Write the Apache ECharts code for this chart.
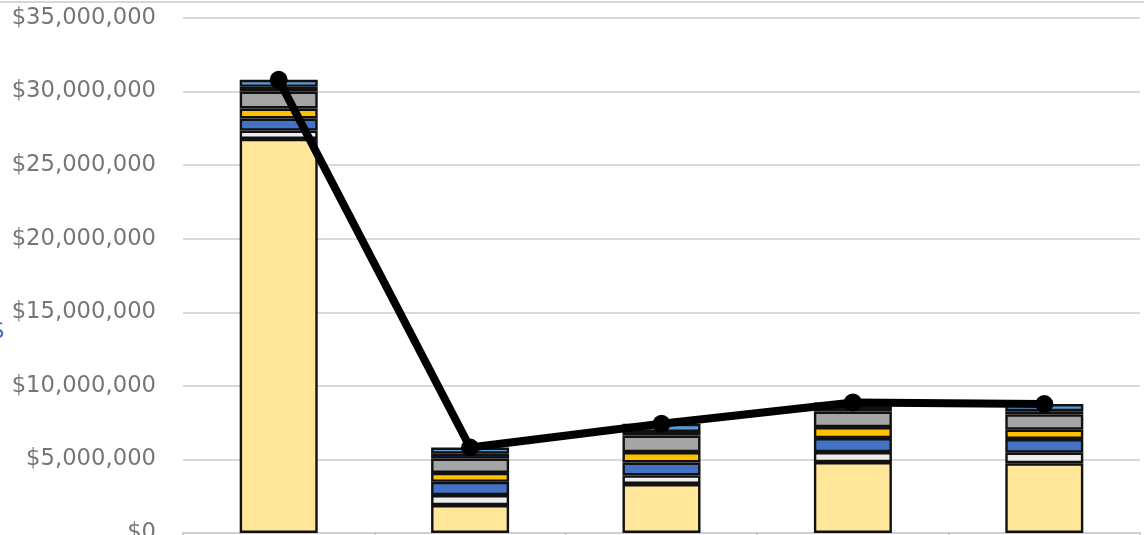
<!DOCTYPE html>
<html>
<head>
<meta charset="utf-8">
<style>
  html, body { margin: 0; padding: 0; background: #ffffff; }
  #chart { width: 1144px; height: 535px; }
</style>
<script src="https://cdn.jsdelivr.net/npm/echarts@6/dist/echarts.min.js"></script>
</head>
<body>
<div id="chart"></div>
<script>
// Periods along the x axis
const categories = ['Year 1', 'Year 2', 'Year 3', 'Year 4', 'Year 5'];

// Stacked cost components, bottom to top (dollars)
const baseCost      = [26780000, 1900000, 3330000, 4820000, 4740000];
const serviceCost   = [  570000,  680000,  580000,  680000,  720000];
const laborCost     = [  820000,  900000,  880000,  950000,  930000];
const energyCost    = [  680000,  600000,  710000,  750000,  630000];
const materialCost  = [ 1150000,  980000, 1120000, 1050000, 1040000];
const overheadCost  = [  320000,  330000,  250000,  250000,  220000];
const otherCost     = [  480000,  420000,  550000,  370000,  480000];

// Y axis ticks
const yMin = 0;
const yMax = 35000000;
const yStep = 5000000;

const stackParts = [
  { name: 'Base',      data: baseCost,     color: '#FFE699' },
  { name: 'Service',   data: serviceCost,  color: '#EDEDED' },
  { name: 'Labor',     data: laborCost,    color: '#4472C4' },
  { name: 'Energy',    data: energyCost,   color: '#FFC000' },
  { name: 'Material',  data: materialCost, color: '#A5A5A5' },
  { name: 'Overhead',  data: overheadCost, color: '#203864' },
  { name: 'Other',     data: otherCost,    color: '#5B9BD5' }
];

// Total per period, drawn as the black line
const totals = categories.map((_, i) =>
  stackParts.reduce((sum, p) => sum + p.data[i], 0));

const chart = echarts.init(document.getElementById('chart'), null, { renderer: 'canvas' });

const barSeries = stackParts.map(p => ({
  name: p.name,
  type: 'bar',
  stack: 'cost',
  barWidth: 78,
  data: p.data,
  itemStyle: { color: p.color, borderColor: '#111111', borderWidth: 2.4 },
  emphasis: { disabled: true },
  z: 2
}));

chart.setOption({
  animation: false,
  backgroundColor: '#ffffff',
  grid: { left: 183, right: 4, top: 18, bottom: 2, containLabel: false, outerBoundsMode: 'none' },
  xAxis: {
    type: 'category',
    data: categories,
    axisLine: { show: true, lineStyle: { color: '#d0d0d0', width: 2 } },
    axisTick: { show: true, alignWithLabel: false, length: 6, lineStyle: { color: '#bfbfbf', width: 1.5 } },
    axisLabel: { show: false }
  },
  yAxis: {
    type: 'value',
    min: yMin,
    max: yMax,
    interval: yStep,
    axisLine: { show: false },
    axisTick: { show: false },
    splitLine: { show: true, lineStyle: { color: '#d9d9d9', width: 2 } },
    axisLabel: {
      margin: 27,
      color: '#767676',
      fontFamily: 'DejaVu Sans',
      fontSize: 22.7,
      formatter: v => '$' + v.toLocaleString('en-US')
    }
  },
  series: barSeries.concat([{
    name: 'Total',
    type: 'line',
    data: totals,
    symbol: 'circle',
    symbolSize: 18,
    itemStyle: { color: '#000000' },
    lineStyle: { color: '#000000', width: 8 },
    emphasis: { disabled: true },
    z: 5
  }]),
  graphic: [
    {
      type: 'line',
      shape: { x1: 0, y1: 2, x2: 1144, y2: 2 },
      style: { stroke: '#d6d6d6', lineWidth: 2 }
    },
    {
      type: 'text',
      left: -10,
      top: 320,
      style: { text: '$', fill: '#4472C4', font: '24px "DejaVu Sans"' }
    }
  ]
});
</script>
</body>
</html>
